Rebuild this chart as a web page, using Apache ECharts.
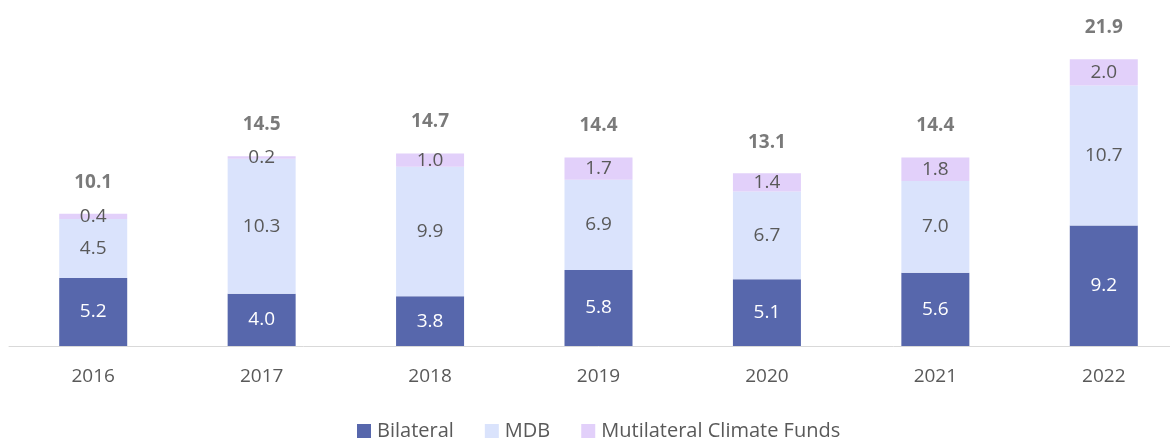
<!DOCTYPE html>
<html>
<head>
<meta charset="utf-8">
<script src="https://cdn.jsdelivr.net/npm/echarts@6/dist/echarts.min.js"></script>
<style>
  html, body { margin: 0; padding: 0; background: #fff; overflow: hidden; }
  /* the original plot runs a bit past the right edge, so the canvas is wider than the window */
  #chart { width: 1188px; height: 441px; }
</style>
</head>
<body>
<div id="chart"></div>
<script>
// data
const years = ['2016', '2017', '2018', '2019', '2020', '2021', '2022']
const bilateral = [5.2, 4.0, 3.8, 5.8, 5.1, 5.6, 9.2]
const mdb = [4.5, 10.3, 9.9, 6.9, 6.7, 7.0, 10.7]
const climateFunds = [0.4, 0.2, 1.0, 1.7, 1.4, 1.8, 2.0]
const totals = [10.1, 14.5, 14.7, 14.4, 13.1, 14.4, 21.9]

const font = '"Open Sans", "Noto Sans", sans-serif'
const gray = '#595959'

const chart = echarts.init(document.getElementById('chart'))

function stackSeries(name, data, color, labelColor) {
  return {
    name: name,
    type: 'bar',
    stack: 'total',
    data: data,
    barWidth: 68,
    itemStyle: { color: color },
    label: {
      show: true,
      position: 'inside',
      color: labelColor,
      fontFamily: font,
      fontSize: 19,
      formatter: (p) => p.value.toFixed(1),
    },
  }
}

chart.setOption({
  animation: false,
  grid: { left: 9, right: 0, top: 58, bottom: 95 },
  legend: {
    top: 416,
    left: 352,
    itemWidth: 14,
    itemHeight: 14,
    itemGap: 31,
    icon: 'rect',
    textStyle: { color: gray, fontFamily: font, fontSize: 20, padding: [0, 0, 0, 1] },
    data: ['Bilateral', 'MDB', 'Mutilateral Climate Funds'],
  },
  xAxis: {
    type: 'category',
    data: years,
    axisLine: { lineStyle: { color: '#d9d9d9', width: 1 } },
    axisTick: { show: false },
    axisLabel: { color: gray, fontFamily: font, fontSize: 19, margin: 21 },
  },
  yAxis: {
    type: 'value',
    min: 0,
    max: 22,
    show: false,
    splitLine: { show: false },
  },
  series: [
    stackSeries('Bilateral', bilateral, '#5767ac', '#ffffff'),
    stackSeries('MDB', mdb, '#dae3fc', gray),
    stackSeries('Mutilateral Climate Funds', climateFunds, '#e2d0fa', gray),
    {
      name: 'total',
      type: 'scatter',
      data: totals,
      symbolSize: 0,
      silent: true,
      label: {
        show: true,
        position: 'top',
        distance: 22,
        color: gray,
        fontFamily: font,
        fontSize: 19,
        fontWeight: 'bold',
        formatter: (p) => p.value.toFixed(1),
      },
    },
  ],
})
</script>
</body>
</html>
